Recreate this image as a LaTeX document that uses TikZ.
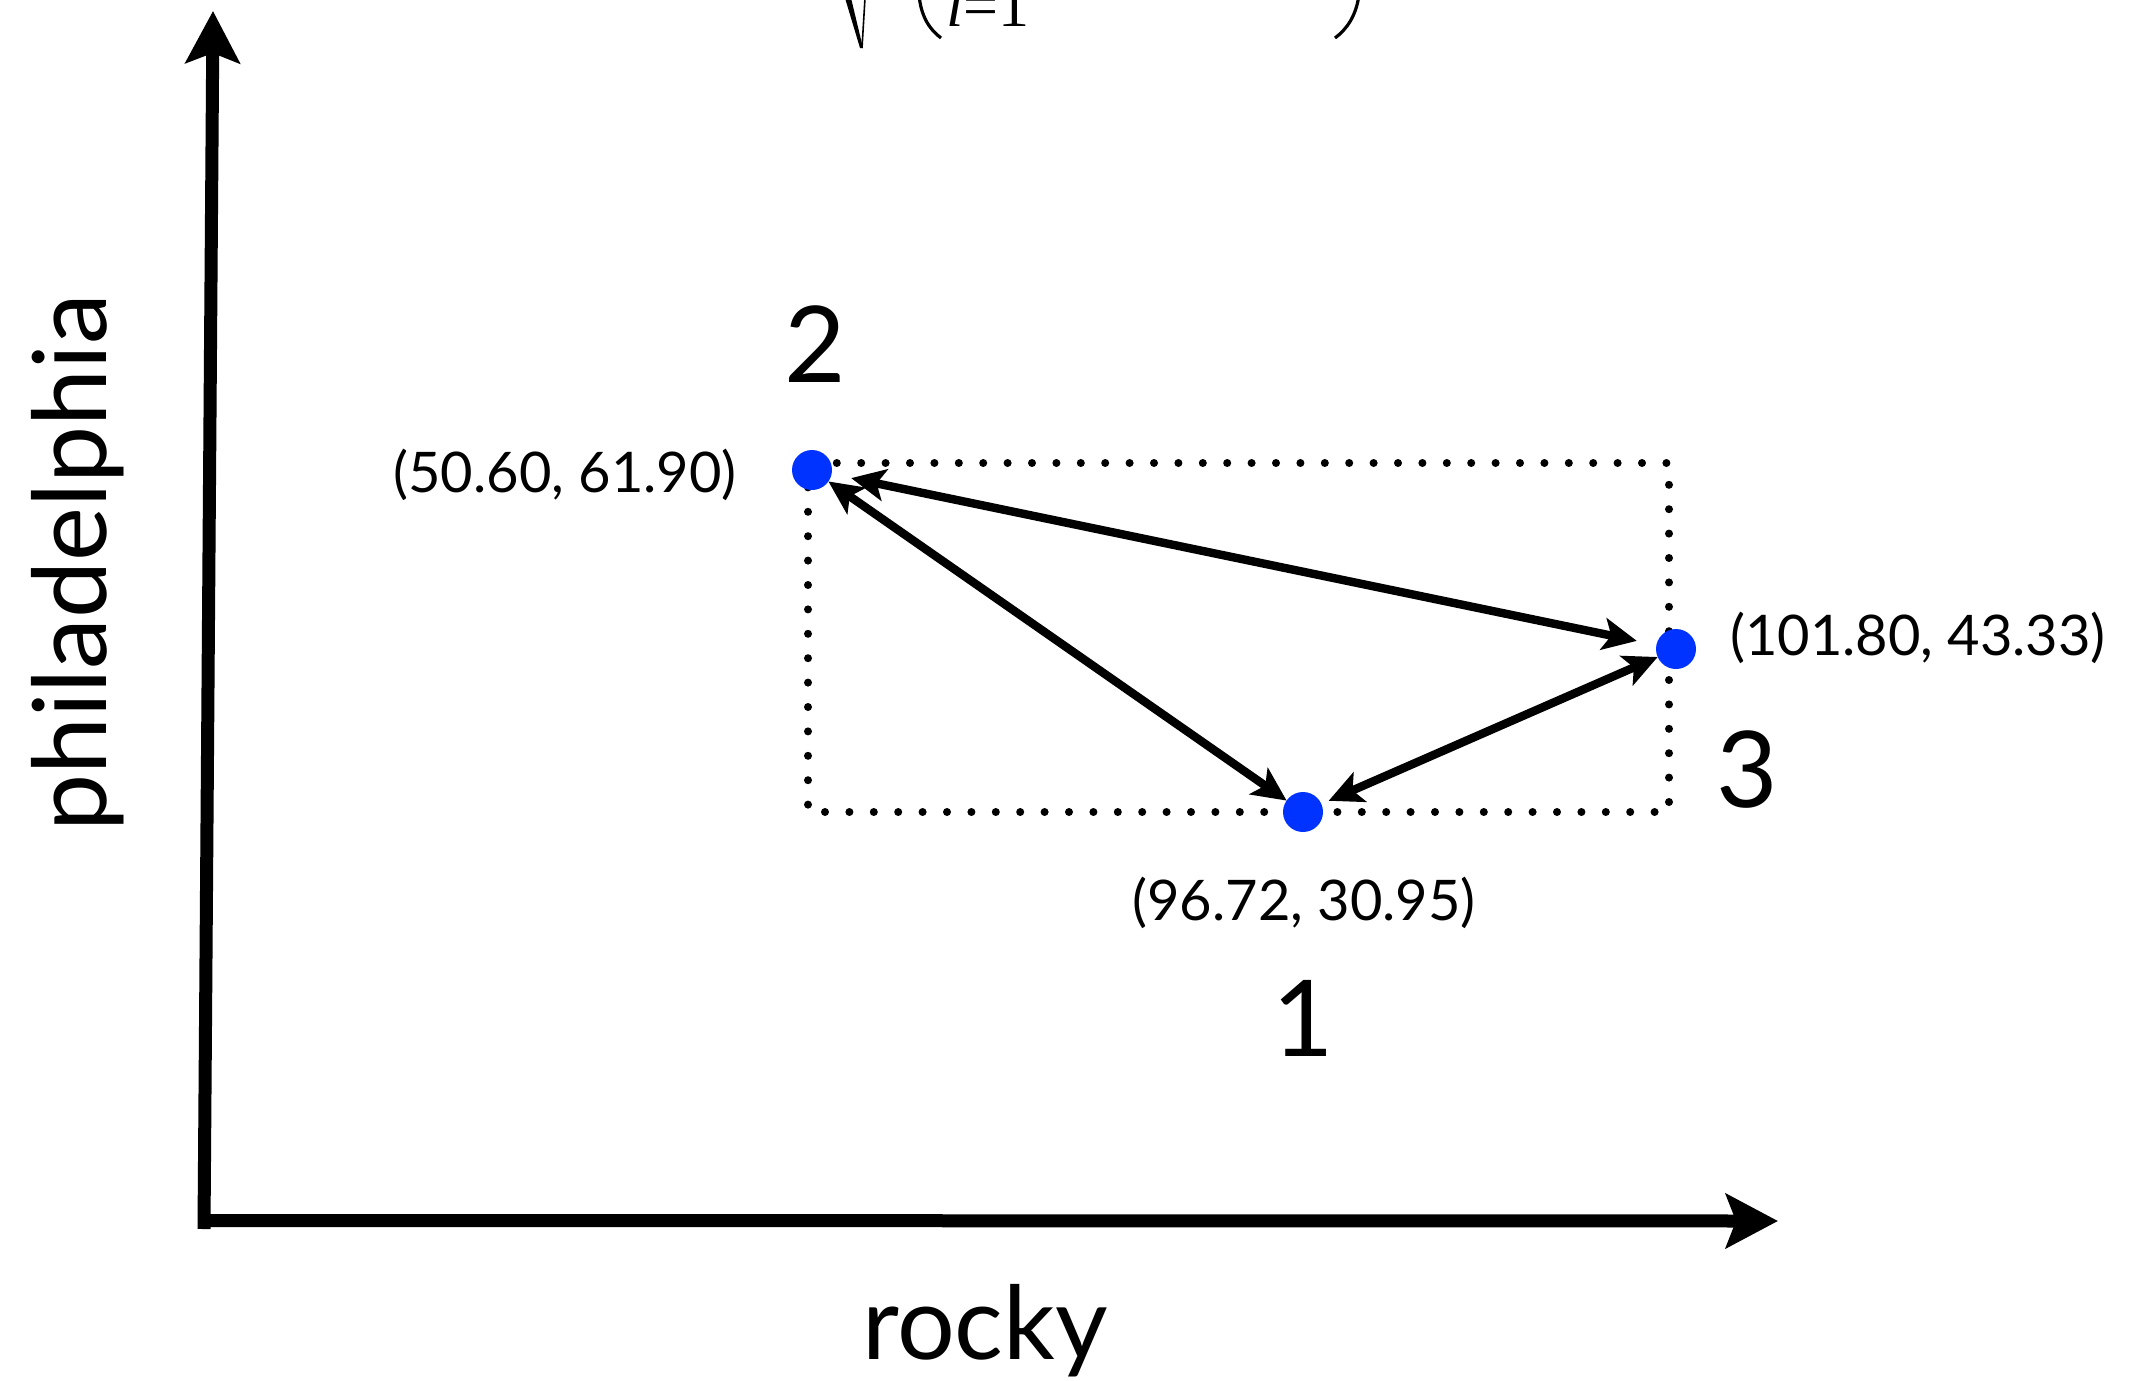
\documentclass[tikz,border=0pt]{standalone}
\usepackage{fontspec}
\setmainfont{Lato}
\newfontfamily\formserif{Liberation Serif}
\usetikzlibrary{arrows.meta}
\definecolor{ptblue}{RGB}{0,51,255}
\begin{document}
\begin{tikzpicture}[x=0.5pt,y=-0.5pt,
  axis/.style={line width=6.5pt, -{Stealth[length=26pt,width=27pt,inset=5pt]}},
  link/.style={line width=4.2pt,
     {Stealth[length=17pt,width=16pt,inset=4pt]}-{Stealth[length=17pt,width=16pt,inset=4pt]}},
  datapt/.style={circle, fill=ptblue, minimum size=20pt, inner sep=0pt, outer sep=0pt},
  coordlab/.style={font=\fontsize{28}{30}\selectfont, anchor=base, inner sep=0pt},
  numlab/.style={font=\fontsize{53}{56}\selectfont, anchor=base, inner sep=0pt},
  axlab/.style={font=\fontsize{51}{54}\selectfont, anchor=base, inner sep=0pt},
  dotbox/.style={line width=4pt, line cap=round, dash pattern=on 0pt off 12.2pt},
  formstroke/.style={line width=1.6pt}
]
\fill[white] (0,0) rectangle (2131,1381);
\useasboundingbox (0,0) rectangle (2131,1381);
\clip (0,0) rectangle (2131,1381);

% formula fragment at top (cut by the picture edge)
\fill (845,-2) -- (851,-2) -- (863,48) -- (860,48) -- cycle;
\draw[line width=0.8pt] (862,48) -- (865,-2);
\draw[formstroke] (919,-5) .. controls (921,16) and (929,29) .. (941,38);
\draw[formstroke] (1359,-5) .. controls (1356,16) and (1347,29) .. (1335,38);
\node[anchor=base west, inner sep=0pt, font=\formserif\fontsize{31}{33}\selectfont]
  (sub) at (946,26) {\textit{i}=1};

% axes
\coordinate (ybot) at (204,1229);
\coordinate (ytip) at (213,11);
\coordinate (xleft) at (204,1220.5);
\coordinate (xtip) at (1778,1221);
\draw[axis] (ybot) -- (ytip);
\draw[axis] (xleft) -- (xtip);

\node[axlab, rotate=90] (ylab) at (106,563) {philadelphia};
\node[axlab] (xlab) at (985,1359) {rocky};

% dotted box
\coordinate (boxa) at (808,463);
\coordinate (boxb) at (1669,812);
\draw[dotbox] (boxa) rectangle (boxb);

% points
\node[datapt] (p2) at (812,470) {};
\node[datapt] (p3) at (1676,649) {};
\node[datapt] (p1) at (1303,812) {};

% connectors
\draw[link, shorten <=10pt, shorten >=10pt] (p2) -- (p3);
\draw[link] (p2) -- (p1);
\draw[link, shorten <=4pt] (p1) -- (p3);

% labels
\node[coordlab] (c2) at (565,492) {(50.60, 61.90)};
\node[coordlab] (c3) at (1918,655) {(101.80, 43.33)};
\node[coordlab] (c1) at (1304,920) {(96.72, 30.95)};
\node[numlab] (n2) at (815,382) {2};
\node[numlab] (n3) at (1747,807) {3};
\node[numlab] (n1) at (1303,1056) {1};
\end{tikzpicture}
\end{document}
